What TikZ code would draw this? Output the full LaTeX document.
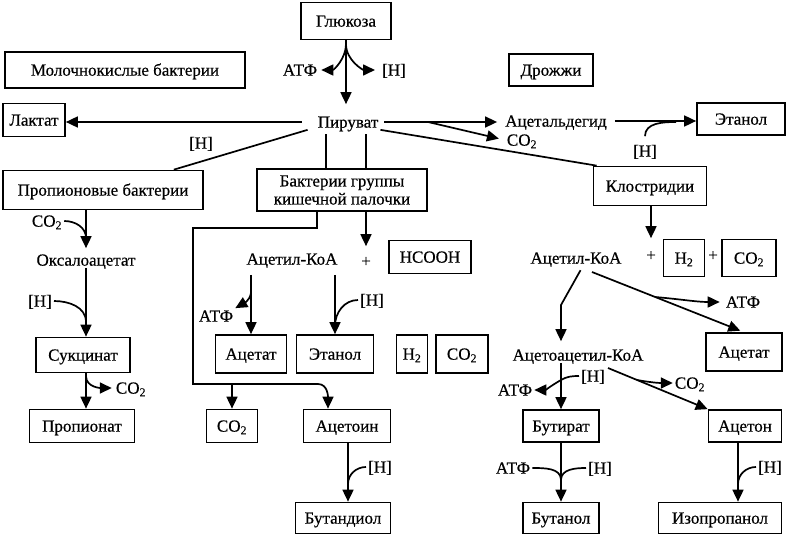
\documentclass[tikz,border=0pt]{standalone}
\usepackage{fontspec}
\setmainfont{Liberation Serif}[FakeBold=0.5]
\usetikzlibrary{arrows.meta}

\begin{document}
\begin{tikzpicture}[x=1pt, y=-1pt,
        font=\fontsize{17}{18}\selectfont,
        lbl/.style={inner sep=2pt, text height=11.3pt, text depth=0pt},
        frame/.style={draw, line width=1.7pt, inner sep=2pt},
        box/.style={frame, text height=11.3pt, text depth=0pt},
        link/.style={line width=1.7pt},
        arr/.style={link, -{Triangle[length=12pt, width=11pt]}}]

    \useasboundingbox (0,0) rectangle (788,538);

    % Boxes of the top rows
    \node[box, minimum width=90pt, minimum height=37pt] (glu) at (346,21) {Глюкоза};
    \node[box, minimum width=240pt, minimum height=36pt] (lacb) at (125,70) {Молочнокислые бактерии};
    \node[box, minimum width=84pt, minimum height=32pt] (yeast) at (551,70) {Дрожжи};
    \node[box, minimum width=62pt, minimum height=33pt] (lac) at (34,120) {Лактат};
    \node[box, minimum width=88pt, minimum height=32pt] (eth1) at (741,119) {Этанол};
    \node[box, minimum width=200pt, minimum height=39pt] (prop) at (103,190) {Пропионовые бактерии};
    \node[frame, align=center, minimum width=170pt, minimum height=42pt] (ecoli) at (342,190) {Бактерии группы\\кишечной палочки};
    \node[box, minimum width=113pt, minimum height=39pt] (clo) at (650,186) {Клостридии};

    % Boxes of the middle rows
    \node[box, minimum width=82pt, minimum height=33pt] (hcooh) at (430,257) {HCOOH};
    \node[box, minimum width=41pt, minimum height=37pt] (h2r) at (684,258) {H\textsubscript{2}};
    \node[box, minimum width=54pt, minimum height=37pt] (co2r) at (749,258) {CO\textsubscript{2}};
    \node[box, minimum width=71pt, minimum height=38pt] (ace1) at (251,354) {Ацетат};
    \node[box, minimum width=77pt, minimum height=38pt] (eth2) at (335,354) {Этанол};
    \node[box, minimum width=31pt, minimum height=38pt] (h2m) at (412,354) {H\textsubscript{2}};
    \node[box, minimum width=52pt, minimum height=38pt] (co2m) at (462,354) {CO\textsubscript{2}};
    \node[box, minimum width=76pt, minimum height=38pt] (acer) at (744,352) {Ацетат};
    \node[box, minimum width=94pt, minimum height=35pt] (succ) at (83,355) {Сукцинат};

    % Boxes of the bottom rows
    \node[box, minimum width=105pt, minimum height=33pt] (propn) at (82,426) {Пропионат};
    \node[box, minimum width=51pt, minimum height=33pt] (co2d) at (232,426) {CO\textsubscript{2}};
    \node[box, minimum width=87pt, minimum height=33pt] (acn) at (347,426) {Ацетоин};
    \node[box, minimum width=76pt, minimum height=32pt] (but1) at (561,426) {Бутират};
    \node[box, minimum width=73pt, minimum height=32pt] (acet) at (745,426) {Ацетон};
    \node[box, minimum width=95pt, minimum height=31pt] (bdiol) at (343,518) {Бутандиол};
    \node[box, minimum width=76pt, minimum height=31pt] (butn) at (561,518) {Бутанол};
    \node[box, minimum width=123pt, minimum height=31pt] (iso) at (720,518) {Изопропанол};

    % Free texts
    \node[lbl] (pyr) at (348,122) {Пируват};
    \node[lbl] (atp1) at (300,70) {АТФ};
    \node[lbl] (h1) at (394,70) {[Н]};
    \node[lbl] (ald) at (556,121) {Ацетальдегид};
    \node[lbl] (co2a) at (522,140) {CO\textsubscript{2}};
    \node[lbl] (h2) at (645,151) {[Н]};
    \node[lbl] (h3) at (201,143) {[Н]};
    \node[lbl] (co2b) at (47,221) {CO\textsubscript{2}};
    \node[lbl] (oxa) at (86,260) {Оксалоацетат};
    \node[lbl] (h4) at (40,301) {[Н]};
    \node[lbl] (co2c) at (131,388) {CO\textsubscript{2}};
    \node[lbl] (acm) at (292,259) {Ацетил-КоА};
    \node[lbl] (plus1) at (366,261) {+};
    \node[lbl] (atp2) at (216,316) {АТФ};
    \node[lbl] (h5) at (372,300) {[Н]};
    \node[lbl] (acr) at (576,258) {Ацетил-КоА};
    \node[lbl] (plus2) at (651,255) {+};
    \node[lbl] (plus3) at (713,255) {+};
    \node[lbl] (atp3) at (743,302) {АТФ};
    \node[lbl] (aca) at (578,355) {Ацетоацетил-КоА};
    \node[lbl] (atp4) at (515,390) {АТФ};
    \node[lbl] (h6) at (593,376) {[Н]};
    \node[lbl] (co2e) at (690,383) {CO\textsubscript{2}};
    \node[lbl] (atp5) at (513,468) {АТФ};
    \node[lbl] (h7) at (600,468) {[Н]};
    \node[lbl] (h8) at (380,467) {[Н]};
    \node[lbl] (h9) at (770,467) {[Н]};

    % Define the junction points
    \coordinate (g1) at (346,44);
    \coordinate (b1) at (428,122);
    \coordinate (j1) at (676,122);
    \coordinate (p1) at (326,134);
    \coordinate (p2) at (366,134);
    \coordinate (j2) at (86,238);
    \coordinate (j3) at (86,322);
    \coordinate (j4) at (86,376);
    \coordinate (k1) at (193,228);
    \coordinate (k2) at (193,384);
    \coordinate (k3) at (318,384);
    \coordinate (j5) at (251,293);
    \coordinate (j6) at (335,326);
    \coordinate (a1) at (592,272);
    \coordinate (j7) at (655,297);
    \coordinate (k4) at (561,305);
    \coordinate (j8) at (561,380);
    \coordinate (a2) at (608,368);
    \coordinate (j9) at (637,380);
    \coordinate (j10) at (561,480);
    \coordinate (j11) at (738,484);
    \coordinate (j12) at (348,484);

    % Glucose and pyruvate
    \draw[arr, shorten >=10pt] (glu) -- (glu |- pyr.north);
    \draw[arr, shorten >=2pt] (g1) to[out=-90, in=0] (atp1.east);
    \draw[arr, shorten >=5pt] (g1) to[out=-90, in=180] (h1.west);
    \draw[arr, shorten <=14pt] (pyr.west) -- (pyr.west -| lac.east);
    \draw[arr, shorten <=4pt, shorten >=6pt] (pyr.east) -- (pyr.east -| ald.west);
    \draw[arr, shorten >=6pt] (b1) -- (co2a.west);
    \draw[arr, shorten <=6pt] (ald.east) -- (ald.east -| eth1.west);
    \draw[link] ([yshift=7pt]h2.north) to[out=90, in=180] (j1);
    \draw[link] ([xshift=-8pt]pyr.south west) -- ([xshift=-30pt]prop.north east);
    \draw[link] (p1) -- (p1 |- ecoli.north);
    \draw[link] (p2) -- (p2 |- ecoli.north);
    \draw[link] (pyr.south east) -- ([xshift=4pt]clo.north west);

    % Propionic bacteria
    \draw[arr, shorten >=4pt] (oxa |- prop.south) -- (oxa.north);
    \draw[link] (co2b.east) to[out=0, in=90] (j2);
    \draw[arr] (oxa.south) -- (oxa |- succ.north);
    \draw[link] (h4.east) to[out=0, in=90] (j3);
    \draw[arr] (oxa |- succ.south) -- (oxa |- propn.north);
    \draw[arr, shorten >=2pt] (j4) to[out=-90, in=180] (co2c.west);

    % Enteric bacteria
    \draw[arr, shorten >=7pt] (p2 |- ecoli.south) -- (plus1.north);
    \draw[arr] ([xshift=-25pt]ecoli.south) |- (k1) -- (k2) -- (k3) to[out=0, in=90] ([xshift=-19pt]acn.north);
    \draw[arr] (co2d.north |- k2) -- (co2d.north);
    \draw[arr, shorten <=8pt] (ace1 |- acm.south) -- (ace1.north);
    \draw[arr, shorten <=8pt] (eth2 |- acm.south) -- (eth2.north);
    \draw[arr] (j5) to[out=-100, in=30] (atp2.north east);
    \draw[arr] (j12 |- acn.south) -- (j12 |- bdiol.north);

    % Clostridia
    \draw[arr, shorten >=9pt] (clo.south -| plus2) -- (plus2.north);
    \draw[arr, shorten >=4pt] (a1) -- (acer.north);
    \draw[arr, shorten >=4pt] (j7) to[out=-5, in=180] (atp3.west);
    \draw[arr, shorten <=5pt, shorten >=6pt] ([xshift=7pt]acr.south) -- (k4) -- (k4 |- aca.north);
    \draw[arr] (but1 |- aca.south) -- (but1.north);
    \draw[link] (h6.west) to[out=180, in=30] (j8);
    \draw[arr] (j8) to[out=-150, in=0] (atp4.east);
    \draw[arr] (a2) -- (acet.north west);
    \draw[arr] (j9) to[out=-10, in=180] (co2e.west);
    \draw[arr] (but1) -- (butn);
    \draw[link] (atp5.east) to[out=0, in=90] (j10);
    \draw[link] (h7.west) to[out=180, in=90] (j10);
    \draw[arr] (j11 |- acet.south) -- (j11 |- iso.north);

    % Hydrogen joining the stems
    \foreach \h/\j in {h5/j6, h8/j12, h9/j11} {
        \draw[link] (\h.west) to[out=180, in=90] (\j);
    }
\end{tikzpicture}
\end{document}
